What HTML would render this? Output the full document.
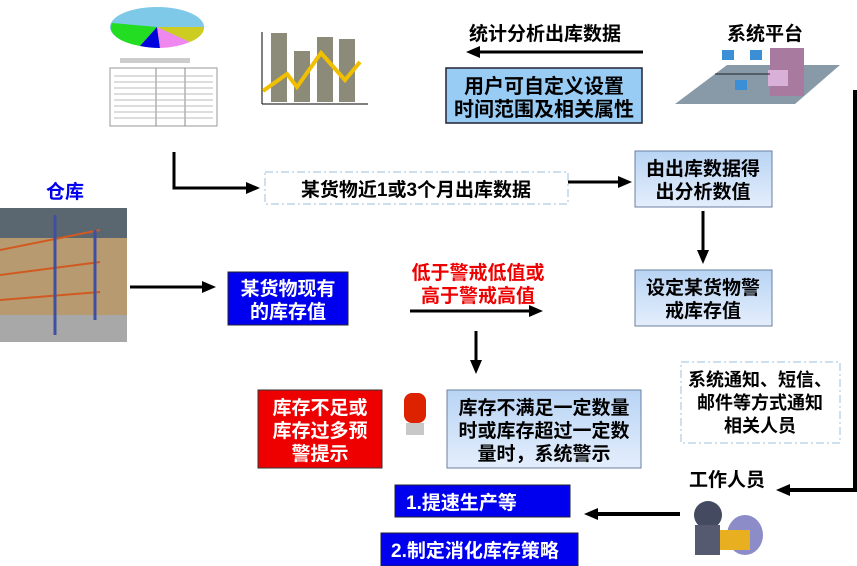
<!DOCTYPE html>
<html><head><meta charset="utf-8"><style>
body{margin:0;background:#fff;}
svg{display:block;}
text{font-family:"Liberation Sans","Noto Sans CJK SC",sans-serif;font-weight:bold;}
</style></head><body>
<svg width="857" height="566" viewBox="0 0 857 566" xmlns="http://www.w3.org/2000/svg">
<defs>
<linearGradient id="lb" x1="0" y1="0" x2="0" y2="1"><stop offset="0" stop-color="#b8d4f4"/><stop offset="1" stop-color="#e4eefc"/></linearGradient>
<marker id="ah" markerWidth="14" markerHeight="12" refX="8" refY="6" orient="auto" markerUnits="userSpaceOnUse"><path d="M0,0 L14,6 L0,12 z" fill="#000"/></marker>
</defs>
<ellipse cx="157" cy="27" rx="47" ry="20" fill="#7ec8e8"/>
<path d="M157,27 L112,23 A47,20 0 0 0 140,46 z" fill="#22dd22"/>
<path d="M157,27 L140,46 A47,20 0 0 0 160,48 z" fill="#0000dd"/>
<path d="M157,27 L160,48 A47,20 0 0 0 190,42 z" fill="#ee88ee"/>
<path d="M157,27 L190,42 A47,20 0 0 0 204,27 z" fill="#cccc22"/>
<rect x="110" y="68" width="107" height="58" fill="#fff" stroke="#999"/>
<line x1="156" y1="68" x2="156" y2="126" stroke="#888"/><line x1="185" y1="68" x2="185" y2="126" stroke="#888"/>
<g stroke="#bbb" stroke-width="1">
<line x1="114" y1="76" x2="213" y2="76"/><line x1="114" y1="82" x2="213" y2="82"/><line x1="114" y1="88" x2="213" y2="88"/><line x1="114" y1="94" x2="213" y2="94"/><line x1="114" y1="100" x2="213" y2="100"/><line x1="114" y1="106" x2="213" y2="106"/><line x1="114" y1="112" x2="213" y2="112"/><line x1="114" y1="118" x2="213" y2="118"/></g>
<rect x="120" y="58" width="70" height="5" fill="#ccc"/>
<line x1="262" y1="32" x2="262" y2="104" stroke="#000"/><line x1="262" y1="104" x2="368" y2="104" stroke="#000"/>
<rect x="271" y="33" width="16" height="69" fill="#8c8a78"/><rect x="294" y="51" width="16" height="51" fill="#8c8a78"/><rect x="317" y="37" width="16" height="65" fill="#8c8a78"/><rect x="339" y="39" width="16" height="63" fill="#8c8a78"/>
<polyline points="263,91 287,74 297,87 321,53 345,80 360,62" fill="none" stroke="#f0c000" stroke-width="4"/>
<text x="545" y="40" font-size="19" text-anchor="middle">统计分析出库数据</text>
<line x1="643" y1="52" x2="472" y2="52" stroke="#000" stroke-width="3" marker-end="url(#ah)"/>
<rect x="446" y="68" width="196" height="55" fill="#99ccf5" stroke="#223" stroke-width="1.5"/>
<text x="544" y="93" font-size="20" text-anchor="middle">用户可自定义设置</text>
<text x="544" y="116" font-size="20" text-anchor="middle">时间范围及相关属性</text>
<text x="765" y="40" font-size="19" text-anchor="middle">系统平台</text>
<polygon points="675,104 727,65 840,65 795,104" fill="#8899a8"/>
<rect x="770" y="48" width="34" height="48" fill="#a87aa0"/>
<rect x="768" y="70" width="20" height="16" fill="#d8b0d8"/>
<rect x="722" y="50" width="12" height="10" fill="#3b8fd6"/><rect x="750" y="50" width="12" height="10" fill="#3b8fd6"/><rect x="735" y="80" width="12" height="10" fill="#3b8fd6"/>
<line x1="715" y1="74" x2="770" y2="74" stroke="#222"/>
<polyline points="174,152 174,188 254,188" fill="none" stroke="#000" stroke-width="3" marker-end="url(#ah)"/>
<rect x="265" y="172" width="303" height="32" fill="#fff" stroke="#9cc0e0" stroke-dasharray="8,3,2,3"/>
<text x="416" y="196" font-size="19" text-anchor="middle">某货物近1或3个月出库数据</text>
<line x1="568" y1="182" x2="626" y2="182" stroke="#000" stroke-width="3" marker-end="url(#ah)"/>
<rect x="635" y="151" width="137" height="56" fill="url(#lb)" stroke="#6a7fa0"/>
<text x="703" y="175" font-size="19" text-anchor="middle">由出库数据得</text>
<text x="703" y="198" font-size="19" text-anchor="middle">出分析数值</text>
<line x1="703" y1="211" x2="703" y2="258" stroke="#000" stroke-width="3" marker-end="url(#ah)"/>
<rect x="635" y="270" width="137" height="56" fill="url(#lb)" stroke="#6a7fa0"/>
<text x="703" y="294" font-size="19" text-anchor="middle">设定某货物警</text>
<text x="703" y="317" font-size="19" text-anchor="middle">戒库存值</text>
<text x="65" y="198" font-size="19" text-anchor="middle" fill="#0000ee">仓库</text>
<rect x="0" y="208" width="127" height="134" fill="#b89a70"/>
<rect x="0" y="208" width="127" height="30" fill="#5a6670"/>
<rect x="0" y="315" width="127" height="27" fill="#a8a8a8"/>
<g stroke="#d05a20" stroke-width="2"><line x1="0" y1="250" x2="100" y2="230"/><line x1="0" y1="275" x2="100" y2="262"/><line x1="0" y1="300" x2="100" y2="292"/></g>
<g stroke="#4050a0" stroke-width="3"><line x1="55" y1="215" x2="55" y2="335"/><line x1="95" y1="230" x2="95" y2="320"/></g>
<line x1="130" y1="287" x2="210" y2="287" stroke="#000" stroke-width="3" marker-end="url(#ah)"/>
<rect x="228" y="272" width="120" height="53" fill="#0000ee" stroke="#223"/>
<text x="288" y="295" font-size="19" text-anchor="middle" fill="#fff">某货物现有</text>
<text x="288" y="318" font-size="19" text-anchor="middle" fill="#fff">的库存值</text>
<text x="478" y="279" font-size="19" text-anchor="middle" fill="#ee0000">低于警戒低值或</text>
<text x="478" y="302" font-size="19" text-anchor="middle" fill="#ee0000">高于警戒高值</text>
<line x1="410" y1="311" x2="537" y2="311" stroke="#000" stroke-width="3" marker-end="url(#ah)"/>
<line x1="476" y1="331" x2="476" y2="368" stroke="#000" stroke-width="3" marker-end="url(#ah)"/>
<rect x="258" y="390" width="124" height="78" fill="#ee0000" stroke="#333"/>
<text x="320" y="414" font-size="19" text-anchor="middle" fill="#fff">库存不足或</text>
<text x="320" y="437" font-size="19" text-anchor="middle" fill="#fff">库存过多预</text>
<text x="320" y="460" font-size="19" text-anchor="middle" fill="#fff">警提示</text>
<rect x="404" y="393" width="22" height="30" rx="8" fill="#dd2200"/>
<rect x="406" y="423" width="18" height="12" fill="#c8c8c8"/>
<rect x="447" y="390" width="194" height="78" fill="url(#lb)" stroke="#6a7fa0"/>
<text x="544" y="414" font-size="19" text-anchor="middle">库存不满足一定数量</text>
<text x="544" y="437" font-size="19" text-anchor="middle">时或库存超过一定数</text>
<text x="544" y="460" font-size="19" text-anchor="middle">量时，系统警示</text>
<rect x="681" y="362" width="159" height="81" fill="#fff" stroke="#9cc0e0" stroke-dasharray="8,3,2,3"/>
<text x="760" y="386" font-size="18" text-anchor="middle">系统通知、短信、</text>
<text x="760" y="409" font-size="18" text-anchor="middle">邮件等方式通知</text>
<text x="760" y="432" font-size="18" text-anchor="middle">相关人员</text>
<polyline points="855,90 855,490 782,490" fill="none" stroke="#000" stroke-width="4" marker-end="url(#ah)"/>
<text x="727" y="486" font-size="19" text-anchor="middle">工作人员</text>
<ellipse cx="708" cy="515" rx="14" ry="14" fill="#444a60"/>
<ellipse cx="745" cy="535" rx="18" ry="20" fill="#8c8cc8"/>
<rect x="720" y="530" width="30" height="20" fill="#e8b020"/>
<rect x="695" y="525" width="25" height="30" fill="#555a70"/>
<line x1="680" y1="514" x2="590" y2="514" stroke="#000" stroke-width="4" marker-end="url(#ah)"/>
<rect x="395" y="485" width="175" height="32" fill="#0000ee" stroke="#223"/>
<text x="406" y="509" font-size="19" fill="#fff">1.提速生产等</text>
<rect x="381" y="533" width="197" height="33" fill="#0000ee" stroke="#223"/>
<text x="391" y="557" font-size="19" fill="#fff">2.制定消化库存策略</text>
</svg>
</body></html>
